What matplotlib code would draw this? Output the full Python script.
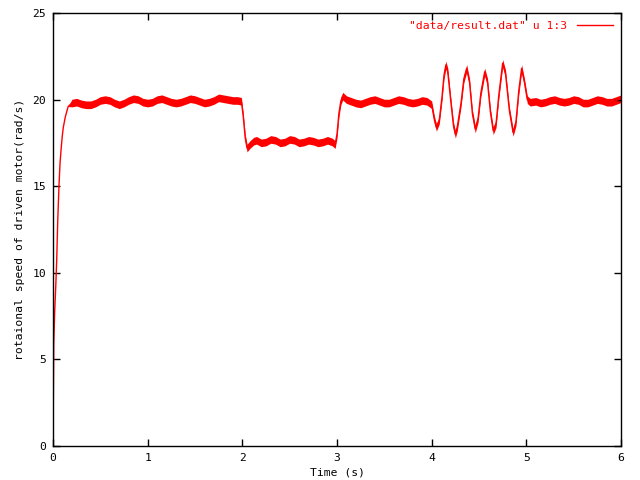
import numpy as np
from matplotlib import pyplot as plt

# time (s) and speed (rad/s)
t = [0, 0.003, 0.008, 0.018, 0.029, 0.039, 0.05, 0.063, 0.074, 0.085, 0.098, 0.109, 0.13, 0.16, 0.2,
     0.25, 0.3, 0.35, 0.4, 0.45, 0.5, 0.55, 0.6, 0.65, 0.7, 0.75, 0.8, 0.85, 0.9, 0.95, 1.0,
     1.05, 1.1, 1.15, 1.2, 1.25, 1.3, 1.35, 1.4, 1.45, 1.5, 1.55, 1.6, 1.65, 1.7, 1.75, 1.8,
     1.85, 1.9, 1.95, 1.99, 2.01, 2.03, 2.05, 2.08, 2.12,
     2.15, 2.2, 2.25, 2.3, 2.35, 2.4, 2.45, 2.5, 2.55, 2.6, 2.65, 2.7, 2.75, 2.8, 2.85, 2.9, 2.95, 2.98,
     3.0, 3.02, 3.04, 3.06, 3.1, 3.15, 3.2, 3.25, 3.3, 3.35, 3.4, 3.45, 3.5, 3.55, 3.6, 3.65,
     3.7, 3.75, 3.8, 3.85, 3.9, 3.95, 4.0,
     4.03, 4.05, 4.08, 4.11, 4.13, 4.15, 4.17, 4.2, 4.23, 4.25, 4.27, 4.31, 4.34, 4.37, 4.4,
     4.43, 4.46, 4.49, 4.52, 4.56, 4.59, 4.62, 4.65, 4.68, 4.71, 4.75, 4.78, 4.82, 4.86, 4.89,
     4.92, 4.95, 4.98, 5.01, 5.04,
     5.1, 5.15, 5.2, 5.25, 5.3, 5.35, 5.4, 5.45, 5.5, 5.55, 5.6, 5.65, 5.7, 5.75, 5.8, 5.85,
     5.9, 5.95, 6.0]
speed = [0, 2.3, 5.9, 7.8, 9.2, 10.7, 13.0, 15.0, 16.3, 17.1, 17.9, 18.4, 19.0, 19.6, 19.8,
         19.85, 19.75, 19.7, 19.7, 19.8, 19.95, 20.0, 19.95, 19.8, 19.7, 19.8, 19.95, 20.05, 20.0, 19.85, 19.8,
         19.85, 20.0, 20.05, 19.95, 19.85, 19.8, 19.85, 19.95, 20.05, 20.0, 19.9, 19.8, 19.85, 19.95, 20.1, 20.05,
         20.0, 19.95, 19.95, 19.9, 19.0, 17.8, 17.2, 17.4, 17.6,
         17.65, 17.5, 17.55, 17.7, 17.65, 17.5, 17.55, 17.7, 17.65, 17.5, 17.55, 17.65, 17.6, 17.5, 17.55, 17.65, 17.55, 17.4,
         18.0, 19.2, 19.9, 20.2, 20.0, 19.9, 19.8, 19.75, 19.85, 19.95, 20.0, 19.9, 19.8, 19.8, 19.9, 20.0,
         19.95, 19.85, 19.8, 19.85, 19.95, 19.9, 19.7,
         18.8, 18.4, 18.8, 20.2, 21.4, 22.0, 21.6, 20.0, 18.5, 18.0, 18.4, 19.8, 21.2, 21.8, 21.0,
         19.2, 18.3, 18.9, 20.4, 21.6, 21.0, 19.3, 18.2, 18.6, 20.3, 22.1, 21.5, 19.4, 18.1, 18.7,
         20.5, 21.8, 21.0, 20.0, 19.85,
         19.9, 19.8, 19.85, 19.95, 20.0, 19.9, 19.85, 19.9, 20.0, 19.95, 19.8, 19.8, 19.9, 20.0, 19.95, 19.85,
         19.85, 19.95, 20.05]
# half width of the noisy band around the trace
spread = [0] * 14 + [0.22] * (len(t) - 14)

t = np.array(t)
speed = np.array(speed)
spread = np.array(spread)

mono = 'DejaVu Sans Mono'
fs = 8.2
fig = plt.figure(figsize=(6.4, 4.8), dpi=100)
ax = fig.add_axes([53/640, 34/480, 568/640, 433/480])

ax.fill_between(t, speed - spread, speed + spread, color='#ff0000', lw=0)
ax.plot(t, speed, color='#ff0000', lw=1, label='"data/result.dat" u 1:3')

ax.set_xlim(0, 6)
ax.set_ylim(0, 25)
ax.set_xticks(range(7))
ax.set_yticks(range(0, 26, 5))
ax.tick_params(direction='in', length=5, width=1, top=True, right=True, labelsize=fs, pad=5)
for lab in ax.get_xticklabels() + ax.get_yticklabels():
    lab.set_family(mono)
for s in ax.spines.values():
    s.set_linewidth(1)

ax.set_xlabel('Time (s)', family=mono, fontsize=fs, labelpad=3)
ax.set_ylabel('rotaional speed of driven motor(rad/s)', family=mono, fontsize=fs, labelpad=5)

leg = ax.legend(loc='upper right', frameon=False, markerfirst=False, handlelength=3.2,
                prop={'family': mono, 'size': fs}, labelcolor='#ff0000',
                borderaxespad=0.3, handletextpad=0.8)

fig.savefig('out.png', dpi=100)
